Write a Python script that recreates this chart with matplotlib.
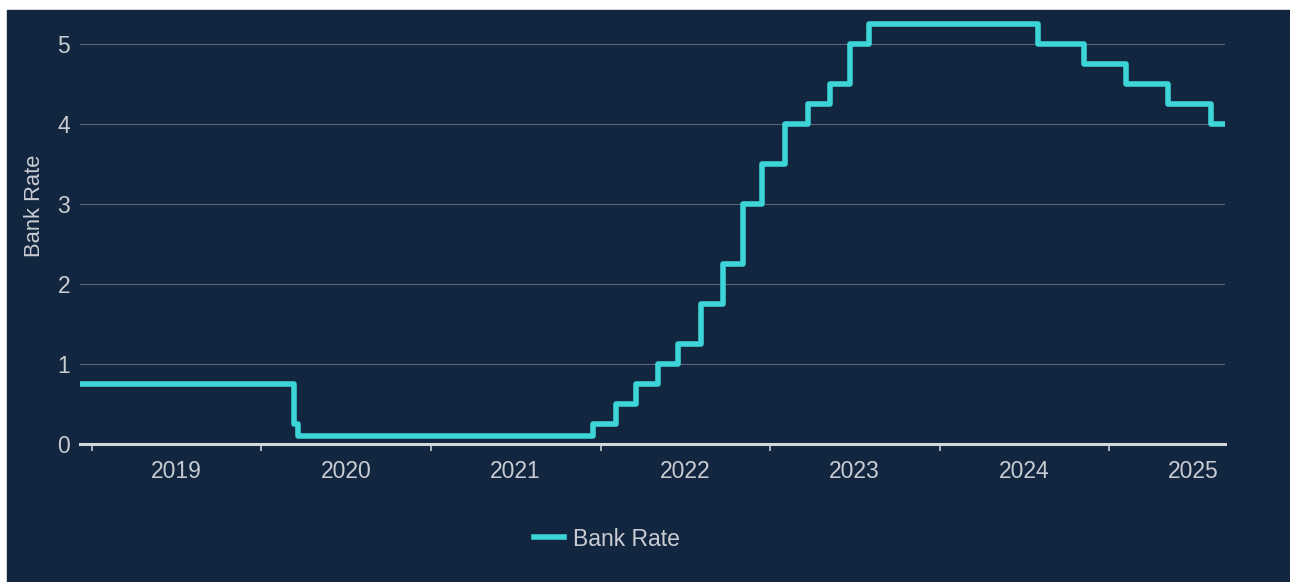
import datetime as dt
import matplotlib
matplotlib.use("Agg")
import matplotlib.pyplot as plt
import matplotlib.dates as mdates
from matplotlib.patches import Rectangle

# Bank Rate changes (date the new rate took effect)
change_dates = [
    "2018-08-02", "2020-03-11", "2020-03-19", "2021-12-16", "2022-02-03",
    "2022-03-17", "2022-05-05", "2022-06-16", "2022-08-04", "2022-09-22",
    "2022-11-03", "2022-12-15", "2023-02-02", "2023-03-23", "2023-05-11",
    "2023-06-22", "2023-08-03", "2024-08-01", "2024-11-07", "2025-02-06",
    "2025-05-08", "2025-08-07", "2025-09-07",
]
bank_rate = [
    0.75, 0.25, 0.10, 0.25, 0.50,
    0.75, 1.00, 1.25, 1.75, 2.25,
    3.00, 3.50, 4.00, 4.25, 4.50,
    5.00, 5.25, 5.00, 4.75, 4.50,
    4.25, 4.00, 4.00,
]
y_ticks = [0, 1, 2, 3, 4, 5]

navy = "#13263f"
cyan = "#3dd5d8"
txt = "#c9cdd3"
axis_col = "#d3d7dc"

plt.rcParams["font.family"] = ["Liberation Sans", "DejaVu Sans"]

W, H = 1290, 582
fig = plt.figure(figsize=(W / 100, H / 100), dpi=100, facecolor="white")
fig.patches.append(Rectangle((7 / W, 0), 1 - 7 / W, 1 - 10 / H,
                             transform=fig.transFigure, color=navy, zorder=-10))

ax = fig.add_axes([80 / W, 1 - 444 / H, 1145 / W, 424 / H])
ax.set_facecolor("none")

dates = [dt.datetime.strptime(d, "%Y-%m-%d") for d in change_dates]
ax.plot(dates, bank_rate, drawstyle="steps-post", color=cyan, lw=4.0,
        label="Bank Rate", zorder=3)

ax.set_xlim(dt.datetime(2018, 12, 6), dt.datetime(2025, 9, 7))
ax.set_ylim(0, 5.3)

for s in ["top", "right", "left"]:
    ax.spines[s].set_visible(False)
ax.spines["bottom"].set_color(axis_col)
ax.spines["bottom"].set_linewidth(2.2)
ax.spines["bottom"].set_zorder(2)

ax.set_yticks(y_ticks)
ax.yaxis.grid(True, color="#55647a", lw=0.8)
ax.set_axisbelow(True)
ax.tick_params(axis="y", length=0, pad=7, labelsize=16.5, labelcolor=txt)

ax.xaxis.set_major_locator(mdates.YearLocator())
ax.xaxis.set_major_formatter(plt.NullFormatter())
ax.xaxis.set_minor_locator(mdates.MonthLocator(bymonth=7))
ax.xaxis.set_minor_formatter(mdates.DateFormatter("%Y"))
ax.tick_params(axis="x", which="major", length=5, width=1.1, color=axis_col)
ax.tick_params(axis="x", which="minor", length=0, pad=11.5, labelsize=16.5,
               labelcolor=txt)

fig.text(35 / W, 1 - 206 / H, "Bank Rate", rotation=90, ha="center",
         va="center", color=txt, fontsize=15.8)

fig.legend(loc="center", bbox_to_anchor=(607 / W, 1 - 539 / H), frameon=False,
           fontsize=16.5, labelcolor=txt, handlelength=1.3, handletextpad=0.4)

fig.savefig("out.png", dpi=100)
